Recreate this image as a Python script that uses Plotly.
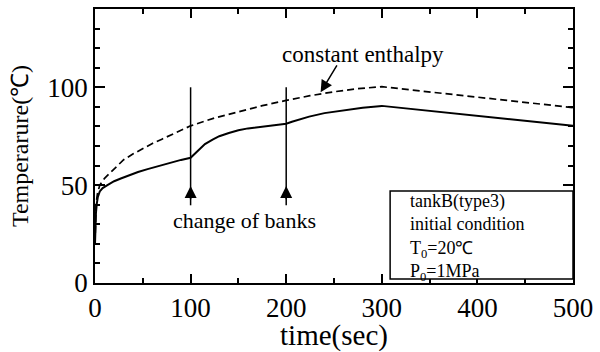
import plotly.graph_objects as go

# Tank temperature during charging, time in seconds
time_solid = [0, 0.5, 1, 2, 3, 5, 8, 13, 20, 27, 35, 45, 55, 62, 70, 80, 90, 100,
              105, 109, 115, 123, 130, 140, 150, 160, 175, 190, 200,
              206, 215, 224, 240, 258, 280, 300, 350, 400, 450, 500]
temp_solid = [20, 30, 36, 41, 44, 46.8, 48.5, 50, 52, 53.4, 55, 56.7, 58.2, 59.2, 60.4, 61.8, 62.9, 64.0,
              66.5, 68.3, 71.0, 73.3, 75.0, 76.6, 78.0, 79.0, 80.0, 80.9, 81.4,
              82.4, 83.7, 85.0, 86.8, 88.2, 89.6, 90.5, 88.0, 85.4, 82.9, 80.3]

# Constant-enthalpy estimate
time_dash = [0, 0.5, 1, 2.5, 5, 10, 20, 30, 40, 50, 60, 70, 80, 90, 100,
             125, 150, 175, 200, 225, 250, 275, 300, 350, 400, 450, 500]
temp_dash = [20, 33, 40, 45.5, 50, 53.5, 58.5, 63, 66, 68.8, 71.3, 73.5, 75.7, 78, 80.3,
             84.3, 87.6, 90.6, 93.3, 95.7, 97.7, 99.3, 100.3, 97.6, 94.9, 92.2, 89.6]

# Times at which the bank is switched
bank_change_times = [100, 200]

x_ticks = [0, 100, 200, 300, 400, 500]
y_ticks = [0, 50, 100]

condition_lines = ["tankB(type3)", "initial condition", "T<sub>0</sub>=20℃", "P<sub>0</sub>=1MPa"]

FONT = "Liberation Serif"

fig = go.Figure()
fig.add_trace(go.Scatter(x=time_dash, y=temp_dash, mode="lines",
                         line=dict(color="black", width=1.7, dash="7px,4px"),
                         showlegend=False, hoverinfo="skip"))
fig.add_trace(go.Scatter(x=time_solid, y=temp_solid, mode="lines",
                         line=dict(color="black", width=2),
                         showlegend=False, hoverinfo="skip"))

annotations = []
shapes = []
for t in bank_change_times:
    shapes.append(dict(type="line", xref="x", yref="y", x0=t, x1=t, y0=39.7, y1=100,
                       line=dict(color="black", width=1.5)))
    annotations.append(dict(x=t, y=49.6, ax=t, ay=42, xref="x", yref="y", axref="x", ayref="y",
                            text="", showarrow=True, arrowhead=2, arrowsize=1.6, arrowwidth=1.5,
                            arrowcolor="black"))

annotations.append(dict(x=156, y=31.8, xref="x", yref="y", text="change of banks",
                        showarrow=False, font=dict(family=FONT, size=22, color="black")))
annotations.append(dict(x=280, y=117, xref="x", yref="y", text="constant enthalpy",
                        showarrow=False, font=dict(family=FONT, size=23, color="black")))
annotations.append(dict(x=236, y=97.4, ax=254, ay=112, xref="x", yref="y", axref="x", ayref="y",
                        text="", showarrow=True, arrowhead=2, arrowsize=1.6, arrowwidth=1.5,
                        arrowcolor="black"))

# Initial-condition box
shapes.append(dict(type="rect", xref="x", yref="y", x0=308.7, x1=500, y0=2, y1=47,
                   line=dict(color="black", width=1.5), fillcolor="white", layer="above"))
annotations.append(dict(x=327.4, y=23.2, xref="x", yref="y", text="<br>".join(condition_lines),
                        xanchor="left", yanchor="middle", align="left", showarrow=False,
                        font=dict(family=FONT, size=18, color="black")))

axis_common = dict(showline=True, linecolor="black", linewidth=1.5, mirror="allticks",
                   ticks="inside", tickcolor="black", tickwidth=1.5, showgrid=False,
                   zeroline=False, tickfont=dict(family=FONT, size=27, color="black"))

fig.update_layout(
    width=600, height=352,
    margin=dict(l=95, r=24, t=7, b=63),
    paper_bgcolor="white", plot_bgcolor="white",
    xaxis=dict(range=[0, 500], tickvals=x_ticks, ticklen=9,
               minor=dict(dtick=50, tick0=0, ticklen=5, ticks="inside", tickcolor="black", tickwidth=1.5),
               title=dict(text="time(sec)", font=dict(family=FONT, size=29, color="black"), standoff=2),
               **axis_common),
    yaxis=dict(range=[0, 140], tickvals=y_ticks, ticklen=10,
               minor=dict(dtick=10, tick0=0, ticklen=5, ticks="inside", tickcolor="black", tickwidth=1.5),
               title=dict(text="Temperarure(℃)", font=dict(family=FONT, size=24, color="black"), standoff=12),
               **axis_common),
    shapes=shapes,
    annotations=annotations,
)

fig.write_html("out.html")
